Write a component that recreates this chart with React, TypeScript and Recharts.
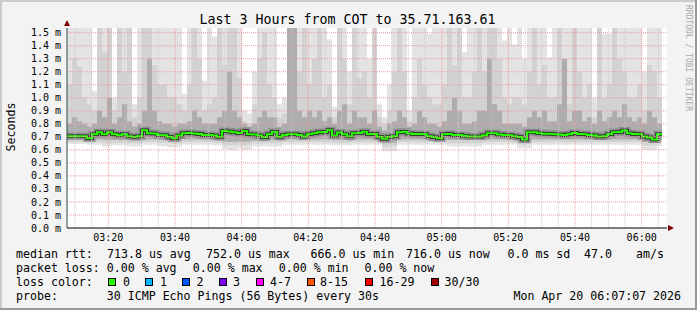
import React from 'react';
import { ComposedChart, Area, Line, XAxis, YAxis, CartesianGrid, ReferenceLine } from 'recharts';

// ─── Data (ms) ───────────────────────────────────────────────────────────────

const T = 1.54; // above the top of the plot (clipped)

// one column every 1.5 min, starting 03:07:36 (minutes after 03:00)
const START_MIN = 7.6;
const STEP_MIN = 1.5;

const MEDIAN = [
  0.705, 0.705, 0.705, 0.705, 0.690, 0.720, 0.735, 0.720, 0.736, 0.720,
  0.712, 0.720, 0.705, 0.700, 0.705, 0.750, 0.728, 0.725, 0.715, 0.712,
  0.700, 0.690, 0.710, 0.728, 0.730, 0.725, 0.722, 0.715, 0.715, 0.710,
  0.700, 0.745, 0.742, 0.735, 0.730, 0.745, 0.720, 0.718, 0.710, 0.697,
  0.720, 0.740, 0.700, 0.715, 0.720, 0.720, 0.715, 0.703, 0.720, 0.728,
  0.735, 0.738, 0.750, 0.710, 0.733, 0.720, 0.705, 0.728, 0.730, 0.740,
  0.720, 0.722, 0.700, 0.686, 0.700, 0.705, 0.735, 0.740, 0.725, 0.722,
  0.722, 0.720, 0.705, 0.697, 0.690, 0.720, 0.722, 0.715, 0.715, 0.708,
  0.703, 0.703, 0.703, 0.712, 0.728, 0.728, 0.718, 0.715, 0.712, 0.705,
  0.698, 0.680, 0.735, 0.735, 0.728, 0.723, 0.723, 0.720, 0.718, 0.715,
  0.720, 0.730, 0.722, 0.720, 0.715, 0.710, 0.703, 0.705, 0.720, 0.736,
  0.738, 0.748, 0.728, 0.722, 0.720, 0.703, 0.695, 0.680, 0.720,
];

// outermost smoke (slowest ping)
const MAX_PING = [
  T, T, T, T, T, 1.05, T, T, T, 1.0,
  T, T, T, 0.95, T, T, T, T, T, T,
  T, T, T, 1.03, T, T, T, 1.13, T, 1.47,
  T, T, T, T, T, 0.9, 0.88, 1.2, T, T,
  T, T, 0.95, 1.0, T, T, T, T, T, T,
  T, T, 1.45, 0.93, T, T, 1.2, T, T, T,
  1.3, T, 0.95, 0.85, 1.1, T, T, T, 0.9, T,
  T, T, 1.49, T, T, T, T, T, T, 1.35,
  T, T, T, T, T, T, T, 1.44, T, 1.41,
  T, 1.3, T, T, T, T, 1.31, T, T, T,
  T, T, T, T, T, 1.0, T, 1.49, 1.49, T,
  T, T, T, T, T, 1.2, T, T, T,
];

const BAND2_HI = [
  1.1, 1.3, 1.24, 1.0, 0.95, 0.9, T, 1.35, T, 0.9,
  T, 1.2, T, 0.85, 1.0, T, T, 1.25, 1.1, 1.1,
  1.0, 1.0, 0.95, 0.9, 1.1, T, 1.3, 0.9, 0.95, 1.0,
  T, 1.25, T, T, 1.15, 0.82, 0.8, 0.95, 1.3, 1.5,
  1.1, 1.0, 0.85, 0.88, T, T, 1.2, T, 1.1, 1.3,
  T, 1.0, 1.1, 0.85, T, 1.3, 0.95, T, 1.15, 1.2,
  1.0, T, 0.85, 0.8, 0.9, 1.2, T, 1.2, 0.82, 1.0,
  1.3, 1.1, 1.0, 0.95, 0.95, 1.1, T, 1.25, T, 1.0,
  1.0, 1.2, T, 1.2, T, T, 1.3, 1.0, 0.95, 1.0,
  1.0, 0.95, 1.2, T, 1.1, 1.25, 1.0, 1.0, T, 1.3,
  0.95, T, 1.2, 1.0, 1.1, 0.85, T, 1.0, 1.1, T,
  1.3, 1.2, 1.0, 1.0, 1.1, 0.9, 1.25, 1.2, 1.0,
];

const BAND3_HI = [
  0.8, 0.85, 0.82, 0.8, 0.78, 0.8, 0.9, 0.85, 1.0, 0.8,
  0.85, 0.95, 0.82, 0.78, 0.8, 0.9, 1.3, 0.9, 0.82, 0.8,
  0.8, 0.78, 0.8, 0.8, 0.82, 0.9, 0.85, 0.8, 0.8, 0.8,
  0.85, 0.9, 1.2, 0.9, 0.85, 0.8, 0.78, 0.8, 0.85, 0.9,
  0.85, 0.85, 0.78, 0.8, T, T, 0.9, 0.85, 0.9, 0.85,
  0.9, 0.82, 0.85, 0.8, 0.9, 0.95, 0.8, 0.9, 0.85, 0.85,
  0.8, 0.9, 0.78, 0.75, 0.8, 0.82, 0.9, 0.85, 0.78, 0.8,
  0.9, 0.85, 0.8, 0.8, 0.78, 0.82, 0.9, 1.0, 0.9, 0.8,
  0.8, 0.82, 0.9, 0.9, 1.3, 0.95, 0.9, 0.8, 0.8, 0.8,
  0.8, 0.78, 0.85, 0.9, 0.85, 0.9, 0.82, 0.82, 0.95, 1.3,
  0.82, 0.9, 0.9, 0.82, 0.85, 0.8, 0.9, 0.82, 0.85, 0.9,
  0.85, 0.95, 0.85, 0.82, 0.85, 0.8, 0.9, 0.85, 0.8,
];

// lower edges of the smoke bands (fastest pings)
const LOW1 = [
  0.645, 0.645, 0.645, 0.645, 0.64, 0.64, 0.64, 0.626, 0.626, 0.635,
  0.635, 0.635, 0.626, 0.626, 0.626, 0.64, 0.64, 0.64, 0.63, 0.63,
  0.62, 0.62, 0.62, 0.64, 0.64, 0.64, 0.64, 0.64, 0.64, 0.635,
  0.635, 0.61, 0.60, 0.60, 0.61, 0.60, 0.605, 0.626, 0.626, 0.626,
  0.626, 0.626, 0.626, 0.64, 0.64, 0.64, 0.64, 0.64, 0.64, 0.64,
  0.64, 0.64, 0.64, 0.635, 0.635, 0.635, 0.635, 0.64, 0.64, 0.64,
  0.64, 0.64, 0.64, 0.59, 0.59, 0.59, 0.64, 0.64, 0.64, 0.64,
  0.64, 0.64, 0.64, 0.64, 0.64, 0.64, 0.626, 0.626, 0.626, 0.626,
  0.626, 0.626, 0.626, 0.64, 0.64, 0.64, 0.64, 0.64, 0.64, 0.64,
  0.613, 0.613, 0.613, 0.64, 0.64, 0.64, 0.64, 0.64, 0.64, 0.64,
  0.64, 0.64, 0.64, 0.64, 0.64, 0.64, 0.64, 0.64, 0.64, 0.64,
  0.64, 0.64, 0.64, 0.64, 0.64, 0.60, 0.60, 0.60, 0.63,
];

const LOW2 = [
  0.66, 0.66, 0.66, 0.66, 0.655, 0.655, 0.66, 0.65, 0.65, 0.655,
  0.655, 0.655, 0.65, 0.65, 0.65, 0.66, 0.66, 0.66, 0.655, 0.655,
  0.65, 0.645, 0.65, 0.66, 0.66, 0.66, 0.66, 0.66, 0.66, 0.655,
  0.655, 0.64, 0.635, 0.635, 0.64, 0.635, 0.64, 0.65, 0.65, 0.65,
  0.65, 0.65, 0.65, 0.66, 0.66, 0.66, 0.66, 0.66, 0.66, 0.66,
  0.66, 0.66, 0.66, 0.655, 0.655, 0.655, 0.655, 0.66, 0.66, 0.66,
  0.66, 0.66, 0.655, 0.625, 0.625, 0.63, 0.66, 0.66, 0.66, 0.66,
  0.66, 0.66, 0.66, 0.655, 0.655, 0.66, 0.65, 0.65, 0.65, 0.65,
  0.65, 0.65, 0.65, 0.66, 0.66, 0.66, 0.66, 0.66, 0.66, 0.655,
  0.645, 0.64, 0.645, 0.66, 0.66, 0.66, 0.66, 0.66, 0.66, 0.66,
  0.66, 0.66, 0.66, 0.66, 0.66, 0.66, 0.66, 0.66, 0.66, 0.66,
  0.66, 0.66, 0.66, 0.66, 0.66, 0.635, 0.635, 0.635, 0.655,
];

const LOW3 = [
  0.68, 0.68, 0.68, 0.68, 0.67, 0.675, 0.68, 0.675, 0.675, 0.675,
  0.675, 0.675, 0.675, 0.67, 0.67, 0.68, 0.68, 0.68, 0.675, 0.675,
  0.67, 0.665, 0.67, 0.68, 0.68, 0.68, 0.68, 0.68, 0.675, 0.675,
  0.67, 0.665, 0.66, 0.66, 0.665, 0.66, 0.665, 0.67, 0.67, 0.67,
  0.675, 0.675, 0.67, 0.675, 0.68, 0.68, 0.68, 0.675, 0.68, 0.68,
  0.68, 0.68, 0.68, 0.675, 0.675, 0.675, 0.67, 0.68, 0.68, 0.68,
  0.68, 0.68, 0.67, 0.65, 0.65, 0.655, 0.68, 0.68, 0.68, 0.68,
  0.68, 0.68, 0.675, 0.67, 0.67, 0.675, 0.675, 0.675, 0.675, 0.675,
  0.675, 0.675, 0.675, 0.68, 0.68, 0.68, 0.68, 0.68, 0.675, 0.675,
  0.665, 0.66, 0.67, 0.68, 0.68, 0.68, 0.68, 0.68, 0.68, 0.68,
  0.68, 0.68, 0.68, 0.68, 0.68, 0.675, 0.675, 0.675, 0.68, 0.68,
  0.68, 0.68, 0.68, 0.68, 0.68, 0.66, 0.66, 0.655, 0.675,
];

const X_TICKS = [20, 40, 60, 80, 100, 120, 140, 160, 180];
const X_TICK_LABELS = ['03:20', '03:40', '04:00', '04:20', '04:40', '05:00', '05:20', '05:40', '06:00'];
const X_MINOR = [10, 15, 25, 30, 35, 45, 50, 55, 65, 70, 75, 85, 90, 95, 105, 110, 115, 125, 130, 135, 145, 150, 155, 165, 170, 175, 185];
const Y_TICKS = [0, 0.1, 0.2, 0.3, 0.4, 0.5, 0.6, 0.7, 0.8, 0.9, 1.0, 1.1, 1.2, 1.3, 1.4, 1.5];

const LOSS_COLORS = ['#26ff00', '#00b8ff', '#0059ff', '#7e00ff', '#ff00ff', '#ff5500', '#ff0000', '#a10000'];
const LOSS_LABELS = ['0', '1', '2', '3', '4-7', '8-15', '16-29', '30/30'];

// ─── Styling ─────────────────────────────────────────────────────────────────

const MONO = '"DejaVu Sans Mono", monospace';
const W = 697;
const H = 310;
const MGRID = '#ef9a9a';
const GRID = '#c8c8c8';

const rows = MEDIAN.map((m, i) => ({
  t: START_MIN + i * STEP_MIN,
  a: [LOW1[i], MAX_PING[i]],
  b: [LOW2[i], BAND2_HI[i]],
  c: [LOW3[i], BAND3_HI[i]],
  m,
}));
// close the last step
rows.push({ ...rows[rows.length - 1], t: START_MIN + MEDIAN.length * STEP_MIN });

const LEGEND_ROW1: [string, number][] = [
  ['median rtt:', 16], ['713.8 us avg', 107], ['752.0 us max', 206], ['666.0 us min', 310.5],
  ['716.0 us now', 406], ['0.0 ms sd', 507.5], ['47.0', 584], ['am/s', 636],
];
const LEGEND_ROW2: [string, number][] = [
  ['packet loss:', 16], ['0.00 % avg', 106.8], ['0.00 % max', 192.8], ['0.00 % min', 278.8], ['0.00 % now', 364.5],
];
const BOX_X = [108.5, 145.5, 182.5, 219.5, 256.5, 307.5, 365.5, 431.5];
const BOX_LABEL_X = [123, 160, 196.5, 233, 270, 320, 379.5, 444.5];

export default function App() {
  const txt = { fontFamily: MONO, fontSize: 11.6, fill: '#000' } as const;
  return (
    <div style={{ position: 'absolute', left: 0, top: 0, width: W, height: H, background: '#f3f3f3' }}>
      <ComposedChart width={W} height={H} data={rows} margin={{ top: 28, right: 30, bottom: 62, left: 7 }}>
        <CartesianGrid fill="#ffffff" horizontal={false} vertical={false} />
        <XAxis
          dataKey="t"
          type="number"
          domain={[7.6, 187.6]}
          ticks={X_TICKS}
          interval={0}
          tickFormatter={(v) => X_TICK_LABELS[X_TICKS.indexOf(v)] ?? ''}
          height={20}
          tickLine={false}
          tickSize={0}
          tickMargin={6}
          axisLine={{ stroke: '#000' }}
          tick={{ fill: '#000', fontSize: 10, fontFamily: MONO }}
        />
        <YAxis
          type="number"
          domain={[0, 1.536]}
          allowDataOverflow
          ticks={Y_TICKS}
          interval={0}
          tickFormatter={(v) => `${v.toFixed(1)} m`}
          width={60}
          tickLine={false}
          tickSize={0}
          tickMargin={6}
          axisLine={{ stroke: '#2c4d43' }}
          tick={{ fill: '#000', fontSize: 10, fontFamily: MONO }}
        />
        <Area dataKey="a" type="stepAfter" stroke="none" fill="#e3e3e3" fillOpacity={1} isAnimationActive={false} />
        <Area dataKey="b" type="stepAfter" stroke="none" fill="#d2d2d2" fillOpacity={1} isAnimationActive={false} />
        <Area dataKey="c" type="stepAfter" stroke="none" fill="#adadad" fillOpacity={1} isAnimationActive={false} />
        <Line dataKey="m" type="stepAfter" stroke="#8c8c8c" strokeWidth={7} dot={false} isAnimationActive={false} />
        <Line dataKey="m" type="stepAfter" stroke="#222222" strokeWidth={3.5} dot={false} isAnimationActive={false} />
        <Line dataKey="m" type="stepAfter" stroke="#26ff00" strokeWidth={2} dot={false} isAnimationActive={false} />
        {Y_TICKS.slice(1).map((y) => (
          <ReferenceLine key={`h${y}`} y={y} stroke={MGRID} strokeDasharray="1 1" />
        ))}
        {X_MINOR.map((x) => (
          <ReferenceLine key={`v${x}`} x={x} stroke={GRID} strokeDasharray="1 1" />
        ))}
        {X_TICKS.map((x) => (
          <ReferenceLine key={`V${x}`} x={x} stroke={MGRID} strokeDasharray="1 1" />
        ))}
      </ComposedChart>

      <svg width={W} height={H} style={{ position: 'absolute', left: 0, top: 0, pointerEvents: 'none' }}>
        {/* frame */}
        <rect x={0} y={0} width={W} height={2} fill="#cbcbcb" />
        <rect x={0} y={0} width={2} height={H} fill="#cbcbcb" />
        <rect x={0} y={H - 2} width={W} height={2} fill="#999999" />
        <rect x={W - 2} y={0} width={2} height={H} fill="#999999" />

        {/* axis arrows */}
        <polygon points="64,26 70,26 67,20" fill="#7f0000" />
        <polygon points="668,225 668,231 674,228" fill="#7f0000" />

        <text x={347.5} y={24} textAnchor="middle" style={{ fontFamily: MONO, fontSize: 13.3 }} fill="#000">
          Last 3 Hours from COT to 35.71.163.61
        </text>
        <text x={15} y={127} textAnchor="middle" transform="rotate(-90 15 127)" {...txt}>
          Seconds
        </text>
        <text x={685.5} y={5} transform="rotate(90 685.5 5)" style={{ fontFamily: MONO, fontSize: 8 }} fill="#a8a8a8">
          RRDTOOL / TOBI OETIKER
        </text>

        {LEGEND_ROW1.map(([s, x]) => (
          <text key={s} x={x} y={257.5} {...txt} style={{ whiteSpace: 'pre' }}>{s}</text>
        ))}
        {LEGEND_ROW2.map(([s, x]) => (
          <text key={s} x={x} y={271.5} {...txt} style={{ whiteSpace: 'pre' }}>{s}</text>
        ))}
        <text x={16} y={285.5} {...txt}>loss color:</text>
        {LOSS_COLORS.map((c, i) => (
          <g key={c}>
            <rect x={BOX_X[i]} y={278.5} width={7} height={7} fill={c} stroke="#000" strokeWidth={1} />
            <text x={BOX_LABEL_X[i]} y={285.5} {...txt}>{LOSS_LABELS[i]}</text>
          </g>
        ))}
        <text x={16} y={299.5} {...txt}>probe:</text>
        <text x={106.8} y={299.5} {...txt}>30 ICMP Echo Pings (56 Bytes) every 30s</text>
        <text x={681} y={299.5} textAnchor="end" {...txt}>Mon Apr 20 06:07:07 2026</text>
      </svg>
    </div>
  );
}
